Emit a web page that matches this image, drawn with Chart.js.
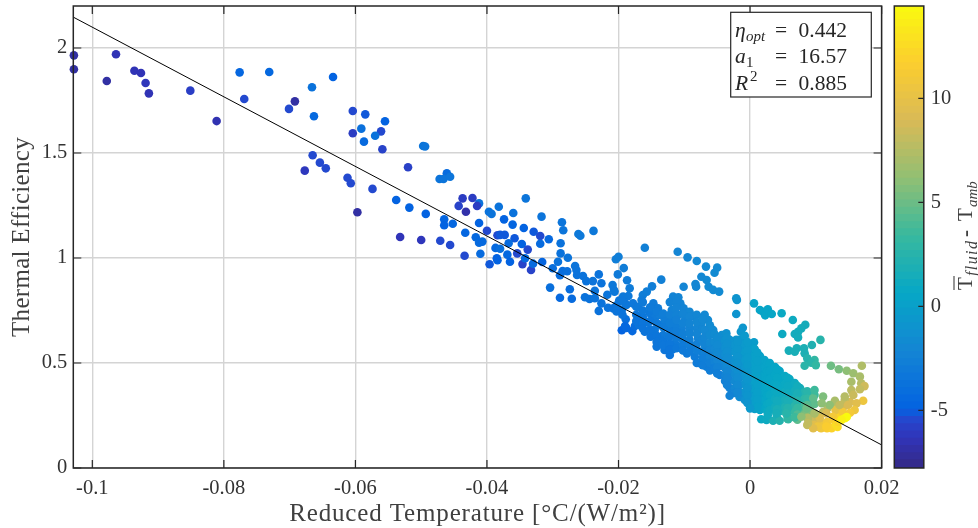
<!DOCTYPE html>
<html>
<head>
<meta charset="utf-8">
<title>Thermal Efficiency</title>
<script src="https://cdn.jsdelivr.net/npm/chart.js@4"></script>
<style>
html, body { margin: 0; padding: 0; background: #fff; }
#wrap { position: relative; width: 978px; height: 528px; overflow: hidden; }
canvas { position: absolute; top: 0; }
</style>
</head>
<body>
<div id="wrap">
    <canvas id="main" width="978" height="528" style="left:0"></canvas>
    <canvas id="bar" width="98" height="528" style="left:880px"></canvas>
</div>
<script>
// axis ticks
const xTicks = [-0.1, -0.08, -0.06, -0.04, -0.02, 0, 0.02];
const xTickLabels = ['-0.1', '-0.08', '-0.06', '-0.04', '-0.02', '0', '0.02'];
const yTicks = [0, 0.5, 1, 1.5, 2];
const yTickLabels = ['0', '0.5', '1', '1.5', '2'];
const barTicks = [-5, 0, 5, 10];
const barTickLabels = ['-5', '0', '5', '10'];

// fitted line end points
const fitX = [-0.10289, 0.02];
const fitY = [2.147, 0.11];

// measured points: [reduced temperature, efficiency, Tfluid-Tamb]
const farLeft = [
    [-0.1028,1.965,-7],[-0.1028,1.899,-7],[-0.0964,1.970,-6.5],[-0.0978,1.843,-7],[-0.0936,1.892,-6.5],
    [-0.0926,1.881,-6.5],[-0.0919,1.833,-6.3],[-0.0914,1.784,-6.5],[-0.0851,1.797,-5.9],[-0.0811,1.652,-6.6],
    [-0.0776,1.884,-4.7],[-0.0731,1.886,-4.6],[-0.0769,1.757,-5.5],[-0.0692,1.746,-7],[-0.0701,1.710,-5.5],
    [-0.0666,1.813,-3.8],[-0.0634,1.862,-5],[-0.0663,1.675,-4.5],[-0.0665,1.489,-5.5],[-0.0654,1.454,-5.5],
    [-0.0645,1.427,-5.5],[-0.0677,1.416,-6.2],[-0.0612,1.382,-5.5],[-0.0607,1.356,-5.5],[-0.0574,1.329,-5.5],
    [-0.0597,1.218,-7],[-0.0604,1.700,-5.5],[-0.0585,1.684,-5.2],[-0.0555,1.651,-5],[-0.0591,1.616,-3.9],
    [-0.0604,1.594,-6],[-0.0561,1.603,-5.5],[-0.0570,1.582,-3.8],[-0.0587,1.554,-4.4],[-0.0559,1.518,-5.7]
];
const middleLeft = [
    [-0.0520,1.432,-5.8],[-0.0497,1.533,-3.5],[-0.0494,1.531,-3.5],[-0.0461,1.403,-4.3],[-0.0472,1.376,-3.6],
    [-0.0466,1.376,-3.6],[-0.0456,1.387,-3.5],[-0.0538,1.276,-5],[-0.0518,1.240,-5],[-0.0493,1.210,-5],
    [-0.0532,1.100,-6.4],[-0.0500,1.086,-6.3],[-0.0471,1.082,-5.5],[-0.0456,1.062,-5.5],[-0.0434,1.011,-5.5],
    [-0.0410,1.020,-4.3],[-0.0465,1.184,-4.8],[-0.0465,1.156,-5],[-0.0452,1.163,-4.7],[-0.0433,1.120,-4.7],
    [-0.0412,1.260,-3.8],[-0.0437,1.284,-6],[-0.0422,1.286,-6],[-0.0443,1.248,-5.7],[-0.0415,1.248,-6],
    [-0.0432,1.220,-6.8],[-0.0412,1.167,-5],[-0.0400,1.130,-5.5],[-0.0397,1.220,-3.8],[-0.0393,1.210,-3.6],
    [-0.0382,1.244,-3.7],[-0.0384,1.108,-5.5],[-0.0417,1.099,-4.5],[-0.0412,1.073,-4.4],[-0.0407,1.078,-4.4],
    [-0.0387,1.048,-4.5],[-0.0385,0.999,-5],[-0.0380,1.044,-4]
];
const middleRight = [
    [-0.0341,1.284,-3.5],[-0.0317,1.197,-3.6],[-0.0360,1.214,-3.8],[-0.0374,1.184,-5],[-0.0361,1.159,-4.8],
    [-0.0344,1.143,-5],[-0.0380,1.110,-5.2],[-0.0373,1.110,-5.2],[-0.0358,1.094,-5.2],[-0.0367,1.070,-4.3],
    [-0.0329,1.125,-5.2],[-0.0319,1.105,-5.5],[-0.0319,1.068,-4.3],[-0.0306,1.089,-4.5],[-0.0347,1.067,-5],
    [-0.0338,1.040,-5.5],[-0.0369,1.016,-4.5],[-0.0354,1.022,-5.5],[-0.0384,0.989,-5],[-0.0365,0.982,-5],
    [-0.0346,0.971,-5.7],[-0.0396,0.970,-5.2],[-0.0333,0.943,-5.7],[-0.0316,0.981,-4.8],[-0.0330,0.973,-4.3],
    [-0.0342,0.999,-4.5],[-0.0288,1.070,-3.8],[-0.0286,1.170,-3.5],[-0.0284,1.132,-3.5],[-0.0261,1.114,-3.2],
    [-0.0258,1.106,-3.2],[-0.0238,1.129,-3.3],[-0.0288,1.022,-3.8],[-0.0277,1.001,-3.6],[-0.0292,0.982,-3.7],
    [-0.0300,0.951,-4],[-0.0289,0.918,-4.2],[-0.0285,0.938,-4.2],[-0.0278,0.937,-4],[-0.0266,0.962,-3.6],
    [-0.0264,0.943,-3.7],[-0.0263,0.919,-3.8],[-0.0254,0.914,-3.8],[-0.0249,0.890,-3.8],[-0.0239,0.890,-3.6],
    [-0.0230,0.922,-3.7],[-0.0226,0.880,-3.7],[-0.0204,0.994,-2.8],[-0.0200,1.006,-2.8],[-0.0192,0.952,-2.9],
    [-0.0201,0.922,-3.1],[-0.0187,0.894,-3],[-0.0304,0.859,-4],[-0.0274,0.851,-4.2],[-0.0289,0.811,-4.5],
    [-0.0271,0.806,-4.3]
];
const bandLeft = [
    [-0.0251,0.813,-3.8],[-0.0244,0.805,-3.8],[-0.0236,0.808,-3.7],[-0.0236,0.844,-3.6],[-0.0230,0.748,-3.8],
    [-0.0226,0.784,-3.7],[-0.0217,0.825,-3.5],[-0.0216,0.763,-3.7],[-0.0209,0.871,-3.3],[-0.0206,0.840,-3.3],
    [-0.0199,0.797,-3.5],[-0.0195,0.752,-3.6],[-0.0189,0.708,-4],[-0.0195,0.656,-5],[-0.0179,0.652,-4.5],
    [-0.0190,0.676,-4.5],[-0.0175,0.676,-4.2],[-0.0183,0.856,-3],[-0.0185,0.819,-3.2],[-0.0190,0.784,-3.4],
    [-0.0173,0.768,-3.3],[-0.0207,0.848,-3.3],[-0.0193,0.816,-3.3],[-0.0208,0.760,-3.7],[-0.0188,0.776,-3.4],
    [-0.0178,0.784,-3.4],[-0.0170,0.768,-3.3],[-0.0163,0.824,-2.8],[-0.0157,0.840,-2.8],[-0.0165,0.800,-3],
    [-0.0147,0.784,-3],[-0.0140,0.760,-3],[-0.0152,0.737,-3.3],[-0.0163,0.720,-3.4],[-0.0170,0.689,-3.7],
    [-0.0188,0.667,-4.6],[-0.0169,0.681,-3.7],[-0.0160,0.649,-3.6],[-0.0151,0.625,-3.6],[-0.0145,0.657,-3.4],
    [-0.0137,0.681,-3.2],[-0.0130,0.705,-2.9],[-0.0119,0.752,-2.5],[-0.0117,0.816,-2.4],[-0.0109,0.813,-2.3],
    [-0.0106,0.784,-2.3],[-0.0101,0.760,-2.3],[-0.0109,0.729,-2.5],[-0.0092,0.744,-2.1],[-0.0087,0.724,-2.2],
    [-0.0099,0.705,-2.4],[-0.0069,0.729,-2],[-0.0064,0.705,-1.9],[-0.0074,0.689,-2],[-0.0081,0.665,-2.2],
    [-0.0092,0.665,-2.4],[-0.0104,0.665,-2.6],[-0.0114,0.681,-2.8],[-0.0122,0.657,-3],[-0.0132,0.633,-3.1],
    [-0.0137,0.610,-3.3],[-0.0142,0.578,-3.5],[-0.0130,0.562,-3.5],[-0.0122,0.538,-3.6],[-0.0114,0.594,-3.2],
    [-0.0107,0.578,-3.1],[-0.0096,0.546,-3.2],[-0.0087,0.578,-2.8],[-0.0102,0.610,-2.8],[-0.0092,0.610,-2.7],
    [-0.0079,0.618,-2.4],[-0.0066,0.641,-2.1],[-0.0056,0.657,-1.8],[-0.0043,0.633,-1.5],[-0.0036,0.641,-1.3],
    [-0.0051,0.610,-1.9],[-0.0064,0.578,-2.3],[-0.0074,0.554,-2.6],[-0.0084,0.530,-3],[-0.0076,0.499,-3],
    [-0.0066,0.482,-2.8],[-0.0056,0.530,-2.3],[-0.0041,0.546,-1.6],[-0.0028,0.578,-1.1],[-0.0021,0.610,-0.9],
    [-0.0031,0.610,-1.1],[-0.0156,0.695,-3.3],[-0.0145,0.714,-3.1],[-0.0137,0.729,-2.9],[-0.0125,0.681,-2.9],
    [-0.0119,0.714,-2.7],[-0.0125,0.625,-3.1],[-0.0115,0.640,-2.9],[-0.0118,0.565,-3.4],
    [-0.0203,0.745,-3.6],[-0.0203,0.775,-3.5],[-0.0194,0.795,-3.4],[-0.0194,0.730,-3.7],[-0.0173,0.730,-3.5],
    [-0.0173,0.700,-3.7],[-0.0163,0.790,-3.1],[-0.0163,0.750,-3.3],[-0.0163,0.690,-3.5],[-0.0163,0.665,-3.6],
    [-0.0152,0.765,-3.1],[-0.0152,0.700,-3.4],[-0.0152,0.660,-3.5],[-0.0142,0.745,-3],[-0.0142,0.690,-3.2],
    [-0.0142,0.630,-3.5],[-0.0142,0.600,-3.5],[-0.0132,0.735,-2.8],[-0.0132,0.670,-3],[-0.0132,0.600,-3.4],
    [-0.0132,0.585,-3.4],[-0.0122,0.790,-2.5],[-0.0122,0.730,-2.6],[-0.0122,0.690,-2.8],[-0.0122,0.625,-3.2],
    [-0.0122,0.590,-3.4],[-0.0122,0.565,-3.5],[-0.0112,0.790,-2.4],[-0.0112,0.765,-2.4],[-0.0112,0.730,-2.5],
    [-0.0112,0.705,-2.6],[-0.0112,0.650,-2.9],[-0.0112,0.620,-3],[-0.0112,0.570,-3.3],[-0.0102,0.735,-2.3],
    [-0.0102,0.690,-2.5],[-0.0102,0.640,-2.7],[-0.0102,0.585,-3],[-0.0102,0.560,-3.1],[-0.0092,0.720,-2.2],
    [-0.0092,0.690,-2.3],[-0.0092,0.640,-2.5],[-0.0092,0.585,-2.9],[-0.0092,0.555,-3],[-0.0081,0.730,-2.1],
    [-0.0081,0.695,-2.1],[-0.0081,0.640,-2.3],[-0.0081,0.590,-2.6],[-0.0081,0.560,-2.8],[-0.0081,0.500,-3],
    [-0.0072,0.710,-2],[-0.0072,0.660,-2.1],[-0.0072,0.610,-2.3],[-0.0072,0.525,-2.8],[-0.0072,0.490,-2.9],
    [-0.0061,0.680,-1.8],[-0.0061,0.665,-1.8],[-0.0061,0.465,-2.9]
];
const upperArc = [
    [-0.0160,1.049,-2.6],[-0.0135,0.897,-2.6],[-0.0149,0.865,-2.8],[-0.0110,1.030,-2.2],[-0.0095,1.003,-2.1],
    [-0.0081,0.986,-2],[-0.0067,0.959,-1.9],[-0.0050,0.954,-1.8],[-0.0054,0.930,-1.8],[-0.0074,0.911,-2],
    [-0.0066,0.895,-1.9],[-0.0063,0.863,-1.9],[-0.0056,0.848,-1.8],[-0.0047,0.840,-1.8],[-0.0101,0.863,-2.2],
    [-0.0082,0.863,-2.1],[-0.0083,0.876,-2.1],[-0.0021,0.808,-1],[-0.0020,0.800,-1],[-0.0021,0.733,-1],
    [0.0006,0.784,0.2],[0.0015,0.752,0.3],[0.0020,0.744,0.3],[0.0023,0.727,0.4],[0.0027,0.756,0.4],
    [0.0033,0.733,0.5],[0.0048,0.737,0.8],[0.0065,0.705,1],[0.0084,0.682,1.4],[0.0078,0.665,1.4],
    [0.0073,0.649,1.3],[0.0068,0.638,1.2],[0.0073,0.622,1.3],[0.0049,0.638,0.9],[-0.0011,0.668,-0.8],
    [-0.0014,0.649,-0.8],[0.0006,0.599,-0.3],[0.0107,0.610,2.4],[0.0094,0.586,2],[0.0082,0.570,1.8],
    [0.0071,0.570,1.6],[0.0059,0.559,1.5],[0.0068,0.554,1.6],[0.0083,0.546,1.8],[0.0087,0.522,2.3],
    [0.0098,0.514,3],[0.0093,0.501,2.5],[0.0100,0.490,3],[0.0083,0.487,2.6]
];
const bandCentre = [
    [-0.0069,0.657,-2],[-0.0069,0.624,-2.1],[-0.0069,0.586,-2.3],[-0.0069,0.552,-2.6],[-0.0069,0.524,-2.8],
    [-0.0061,0.633,-1.9],[-0.0061,0.595,-2],[-0.0061,0.562,-2.2],[-0.0061,0.529,-2.5],[-0.0061,0.500,-2.7],
    [-0.0054,0.638,-1.7],[-0.0054,0.600,-1.8],[-0.0054,0.567,-2],[-0.0054,0.533,-2.2],[-0.0054,0.505,-2.5],[-0.0054,0.476,-2.8],
    [-0.0046,0.619,-1.5],[-0.0046,0.586,-1.6],[-0.0046,0.552,-1.8],[-0.0046,0.519,-2],[-0.0046,0.486,-2.4],[-0.0046,0.443,-2.8],
    [-0.0038,0.610,-1.3],[-0.0038,0.576,-1.4],[-0.0038,0.543,-1.6],[-0.0038,0.510,-1.8],[-0.0038,0.476,-2.1],[-0.0038,0.443,-2.4],[-0.0038,0.414,-2.6],
    [-0.0031,0.586,-1.2],[-0.0031,0.552,-1.3],[-0.0031,0.519,-1.4],[-0.0031,0.486,-1.6],[-0.0031,0.452,-1.9],[-0.0031,0.419,-2.2],[-0.0031,0.381,-2.4],
    [-0.0023,0.586,-1],[-0.0023,0.552,-1],[-0.0023,0.514,-1.2],[-0.0023,0.481,-1.4],[-0.0023,0.448,-1.7],[-0.0023,0.414,-1.9],[-0.0023,0.381,-2],[-0.0023,0.357,-2.2],
    [-0.0016,0.610,-0.8],[-0.0016,0.571,-0.8],[-0.0016,0.533,-0.9],[-0.0016,0.495,-1],[-0.0016,0.462,-1.3],[-0.0016,0.429,-1.5],[-0.0016,0.395,-1.6],[-0.0016,0.362,-1.6],[-0.0016,0.338,-1.7],
    [-0.0008,0.629,-0.6],[-0.0008,0.590,-0.6],[-0.0008,0.552,-0.5],[-0.0008,0.514,-0.6],[-0.0008,0.476,-0.8],[-0.0008,0.438,-1],[-0.0008,0.400,-1.1],[-0.0008,0.362,-1.1],[-0.0008,0.324,-1.2],
    [0,0.581,-0.3],[0,0.543,-0.2],[0,0.505,-0.2],[0,0.467,-0.2],[0,0.429,-0.3],[0,0.390,-0.4],[0,0.352,-0.5],[0,0.319,-0.6],[0,0.295,-0.6],
    [0.0007,0.567,0],[0.0007,0.529,0],[0.0007,0.490,0],[0.0007,0.452,0],[0.0007,0.414,0],[0.0007,0.376,-0.1],[0.0007,0.338,-0.2],[0.0007,0.305,-0.2],[0.0007,0.281,-0.1],
    [0.0015,0.533,0.1],[0.0015,0.495,0.1],[0.0015,0.457,0.1],[0.0015,0.419,0.2],[0.0015,0.381,0.2],[0.0015,0.343,0.1],[0.0015,0.310,0.1],[0.0015,0.276,0.3],
    [0.0022,0.514,0.2],[0.0022,0.476,0.2],[0.0022,0.438,0.3],[0.0022,0.400,0.4],[0.0022,0.362,0.4],[0.0022,0.324,0.4],[0.0022,0.286,0.5],
    [-0.0050,0.620,-1.7],[-0.0050,0.585,-1.8],[-0.0050,0.550,-1.9],[-0.0050,0.515,-2.2],[-0.0050,0.480,-2.5],[-0.0050,0.450,-2.8],
    [-0.0035,0.620,-1.2],[-0.0035,0.590,-1.3],[-0.0035,0.555,-1.4],[-0.0035,0.525,-1.6],[-0.0035,0.490,-1.9],[-0.0035,0.460,-2.1],[-0.0035,0.430,-2.3],[-0.0035,0.395,-2.5],
    [-0.0019,0.600,-0.9],[-0.0019,0.565,-0.9],[-0.0019,0.530,-1],[-0.0019,0.500,-1.1],[-0.0019,0.465,-1.4],[-0.0019,0.430,-1.6],[-0.0019,0.395,-1.8],[-0.0019,0.360,-2],
    [-0.0004,0.600,-0.4],[-0.0004,0.560,-0.4],[-0.0004,0.525,-0.4],[-0.0004,0.490,-0.5],[-0.0004,0.455,-0.7],[-0.0004,0.420,-0.8],[-0.0004,0.380,-0.9],[-0.0004,0.345,-0.9],[-0.0004,0.310,-1],
    [0.0011,0.550,0],[0.0011,0.510,0],[0.0011,0.470,0],[0.0011,0.435,0.1],[0.0011,0.395,0],[0.0011,0.360,0],[0.0011,0.325,0],[0.0011,0.290,0.1],
    [0.0026,0.500,0.2],[0.0026,0.460,0.3],[0.0026,0.420,0.3],[0.0026,0.380,0.5],[0.0026,0.345,0.5],[0.0026,0.305,0.7],[0.0026,0.270,0.8]
];
const bandRight = [
    [0.0030,0.500,0.3],[0.0030,0.462,0.3],[0.0030,0.424,0.4],[0.0030,0.386,0.6],[0.0030,0.348,0.7],[0.0030,0.310,0.8],[0.0030,0.276,1],
    [0.0038,0.481,0.4],[0.0038,0.443,0.5],[0.0038,0.405,0.6],[0.0038,0.367,0.8],[0.0038,0.329,1],[0.0038,0.290,1.2],
    [0.0045,0.462,0.5],[0.0045,0.424,0.6],[0.0045,0.386,0.8],[0.0045,0.348,1.1],[0.0045,0.310,1.4],[0.0045,0.271,1.8],
    [0.0053,0.438,0.7],[0.0053,0.400,0.8],[0.0053,0.362,1.1],[0.0053,0.324,1.5],[0.0053,0.290,1.9],
    [0.0060,0.424,0.9],[0.0060,0.386,1],[0.0060,0.348,1.3],[0.0060,0.310,1.9],[0.0060,0.276,2.6],
    [0.0068,0.405,1],[0.0068,0.367,1.4],[0.0068,0.329,1.9],[0.0068,0.295,2.6],[0.0068,0.267,3.2],
    [0.0076,0.381,1.5],[0.0076,0.343,2],[0.0076,0.310,2.8],[0.0076,0.276,4],
    [0.0083,0.362,2.2],[0.0083,0.329,2.8],[0.0083,0.295,3.8],[0.0083,0.257,5],
    [0.0091,0.352,2.8],[0.0091,0.319,3.5],[0.0091,0.286,5],[0.0091,0.248,6.5],[0.0091,0.219,8.5],
    [0.0098,0.348,3.5],[0.0098,0.305,4.5],[0.0098,0.229,8],
    [0.0041,0.470,0.5],[0.0041,0.430,0.6],[0.0041,0.395,0.7],[0.0041,0.360,0.9],[0.0041,0.320,1.2],[0.0041,0.280,1.6],[0.0041,0.240,1.8],
    [0.0057,0.430,0.8],[0.0057,0.390,0.9],[0.0057,0.355,1.2],[0.0057,0.320,1.7],[0.0057,0.285,2.3],[0.0057,0.250,2.8],[0.0057,0.235,3],
    [0.0072,0.390,1.3],[0.0072,0.355,1.7],[0.0072,0.320,2.4],[0.0072,0.285,3.2],[0.0072,0.255,4],[0.0072,0.230,4.5],
    [0.0087,0.365,2.5],[0.0087,0.330,3],[0.0087,0.300,4.2],[0.0087,0.270,5.5],[0.0087,0.240,6.5],[0.0087,0.205,8],
    [0.0017,0.232,0.8],[0.0025,0.229,1],[0.0035,0.225,1.8],[0.0045,0.225,2.2],[0.0058,0.232,3],
    [0.0068,0.241,3.5],[0.0055,0.260,2.5],[0.0040,0.260,1.5],[0.0027,0.252,1],[0,0.284,-0.6],[-0.0031,0.344,-2.5]
];
const orangeEnd = [
    [0.0094,0.229,8.5],[0.0103,0.248,8],[0.0111,0.267,8],[0.0118,0.286,7.5],[0.0126,0.300,7.5],[0.0141,0.286,9],
    [0.0152,0.314,9],[0.0108,0.210,10.5],[0.0117,0.219,11],[0.0127,0.229,11.5],[0.0136,0.248,12],[0.0130,0.276,10],
    [0.0141,0.267,11],[0.0144,0.324,8],[0.0117,0.190,11.5],[0.0108,0.190,10.8],[0.0124,0.190,12],[0.0133,0.195,12.5],
    [0.0098,0.205,9.5],[0.0088,0.238,7.5]
];
const hook = [
    [0.0123,0.487,5],[0.0135,0.470,5.3],[0.0147,0.463,6],[0.0170,0.487,7.3],[0.0157,0.451,6.5],
    [0.0167,0.435,7],[0.0154,0.411,7],[0.0169,0.403,7.5],[0.0174,0.390,8.5],[0.0154,0.371,7.8],
    [0.0167,0.375,8],[0.0144,0.340,7.5],[0.0157,0.348,8.3],[0.0172,0.320,10.5],[0.0162,0.308,9.5],
    [0.0129,0.320,7],[0.0136,0.300,8],[0.0149,0.300,9],[0.0121,0.300,6],[0.0159,0.276,10.5],
    [0.0152,0.263,11],[0.0131,0.205,12.5],[0.0116,0.197,11.5],[0.0103,0.197,10.5],[0.0096,0.189,9.5],
    [0.0088,0.213,8],[0.0078,0.244,6],[0.0116,0.260,9],[0.0106,0.237,9.5],[0.0126,0.244,11],
    [0.0134,0.220,12],[0.0098,0.260,7],[0.0086,0.284,5],[0.0096,0.332,4.5],[0.0098,0.371,3.5],
    [0.0111,0.340,5.5],[0.0109,0.308,6],[0.0144,0.237,14.2],[0.0147,0.243,14.4],[0.0139,0.229,13.8]
];
const allPoints = [...farLeft, ...middleLeft, ...middleRight, ...bandLeft, ...upperArc, ...bandCentre, ...bandRight, ...orangeEnd, ...hook];

// colour bar range
const barMin = -7.77;
const barMax = 14.44;

// parula style colour map
const mapStops = [0, 0.0625, 0.1, 0.125, 0.25, 0.375, 0.5, 0.625, 0.75, 0.875, 1];
const mapColors = [[53,42,135],[48,52,185],[38,70,205],[3,99,225],[20,133,212],[6,167,198],[56,185,158],[146,191,115],[217,186,86],[252,206,46],[249,251,14]];

function colorFor(v) {
    const t = Math.min(1, Math.max(0, (v - barMin) / (barMax - barMin)));
    let i = 0;
    while (i < mapStops.length - 2 && t > mapStops[i + 1]) i++;
    const f = (t - mapStops[i]) / (mapStops[i + 1] - mapStops[i]);
    const c = mapColors[i].map((a, k) => Math.round(a + (mapColors[i + 1][k] - a) * f));
    return `rgb(${c[0]},${c[1]},${c[2]})`;
}

const inkColor = '#262626';
const serif = '"Liberation Serif", serif';

function drawInnerTicks(ctx, chart, xScale, yScale, both) {
    const area = chart.chartArea;
    ctx.save();
    ctx.strokeStyle = inkColor;
    ctx.lineWidth = 1.2;
    ctx.beginPath();
    if (xScale) {
        xScale.ticks.forEach(t => {
            const px = xScale.getPixelForValue(t.value);
            ctx.moveTo(px, area.bottom); ctx.lineTo(px, area.bottom - 8);
            ctx.moveTo(px, area.top); ctx.lineTo(px, area.top + 8);
        });
    }
    yScale.ticks.forEach(t => {
        const py = yScale.getPixelForValue(t.value);
        ctx.moveTo(area.right, py); ctx.lineTo(area.right - (both ? 8 : 5.5), py);
        if (both) { ctx.moveTo(area.left, py); ctx.lineTo(area.left + 8, py); }
    });
    ctx.stroke();
    ctx.lineWidth = 1.5;
    ctx.strokeRect(area.left, area.top, area.right - area.left, area.bottom - area.top);
    ctx.restore();
}

// inward ticks, frame, axis titles and the fit result box
const frameAndBox = {
    id: 'frameAndBox',
    afterDatasetsDraw(chart) {
        const ctx = chart.ctx;
        drawInnerTicks(ctx, chart, chart.scales.x, chart.scales.y, true);
        ctx.save();
        ctx.fillStyle = '#fff';
        ctx.strokeStyle = inkColor;
        ctx.lineWidth = 1.2;
        ctx.fillRect(730.7, 12.3, 140.6, 84.7);
        ctx.strokeRect(730.7, 12.3, 140.6, 84.7);
        ctx.fillStyle = inkColor;
        ctx.textBaseline = 'alphabetic';
        const big = `21.5px ${serif}`;
        const bigIt = `italic 21.5px ${serif}`;
        const small = `italic 15px ${serif}`;
        const rows = [[37, '0.442'], [63, '16.57'], [89.5, '0.885']];
        rows.forEach(r => {
            ctx.font = big;
            ctx.fillText('=', 775, r[0]);
            ctx.fillText(r[1], 798.5, r[0]);
        });
        ctx.font = bigIt;
        ctx.fillText('η', 735, 37);
        ctx.fillText('a', 735, 63);
        ctx.fillText('R', 735, 89.5);
        ctx.font = small;
        ctx.fillText('opt', 746, 41);
        ctx.font = `15px ${serif}`;
        ctx.fillText('1', 746, 67);
        ctx.fillText('2', 750, 81);

        // axis titles, spaced out to the width of the original face
        ctx.fillStyle = '#404040';
        ctx.font = `25px ${serif}`;
        ctx.textAlign = 'center';
        ctx.textBaseline = 'middle';
        ctx.letterSpacing = '0.85px';
        ctx.fillText('Reduced Temperature [°C/(W/m²)]', 477.5, 514);
        ctx.letterSpacing = '0.3px';
        ctx.translate(22, 237);
        ctx.rotate(-Math.PI / 2);
        ctx.fillText('Thermal Efficiency', 0, 0);
        ctx.restore();
    }
};

const barFrame = {
    id: 'barFrame',
    afterDatasetsDraw(chart) {
        drawInnerTicks(chart.ctx, chart, null, chart.scales.y, false);
    },
    afterDraw(chart) {
        // rotated colour bar title
        const ctx = chart.ctx;
        ctx.save();
        ctx.translate(92, 290);
        ctx.rotate(-Math.PI / 2);
        ctx.fillStyle = '#404040';
        ctx.strokeStyle = '#404040';
        ctx.textBaseline = 'alphabetic';
        ctx.font = `21px ${serif}`;
        ctx.fillText('T', 0, 0);
        ctx.lineWidth = 1.1;
        ctx.beginPath();
        ctx.moveTo(0, -18);
        ctx.lineTo(14, -18);
        ctx.stroke();
        ctx.font = `italic 16px ${serif}`;
        ctx.letterSpacing = '1.4px';
        ctx.fillText('fluid', 14, 5);
        ctx.letterSpacing = '0px';
        ctx.font = `bold 21px ${serif}`;
        ctx.fillText('-', 53, 0);
        ctx.font = `21px ${serif}`;
        ctx.fillText('T', 69, 0);
        ctx.font = `italic 15px ${serif}`;
        ctx.fillText('amb', 83, 5);
        ctx.restore();
    }
};

new Chart(document.getElementById('main'), {
    type: 'scatter',
    data: {
        datasets: [
            {
                label: 'Fit',
                type: 'line',
                data: fitX.map((x, i) => ({ x: x, y: fitY[i] })),
                borderColor: '#000',
                borderWidth: 1,
                pointRadius: 0,
                tension: 0,
                clip: false,
                order: 0
            },
            {
                label: 'Measurements',
                data: allPoints.map(p => ({ x: p[0], y: p[1] })),
                pointBackgroundColor: allPoints.map(p => colorFor(p[2])),
                pointBorderWidth: 0,
                pointRadius: 4.3,
                clip: false,
                order: 1
            }
        ]
    },
    options: {
        responsive: false,
        animation: false,
        events: [],
        layout: { padding: { left: 0, right: 96.4, top: 6, bottom: 0 } },
        plugins: { legend: { display: false }, tooltip: { enabled: false } },
        scales: {
            x: {
                type: 'linear',
                min: -0.10289,
                max: 0.02,
                afterFit: s => { s.height = 60; s.paddingLeft = 0; s.paddingRight = 0; },
                afterBuildTicks: s => { s.ticks = xTicks.map(v => ({ value: v })); },
                grid: { color: '#d4d4d4', lineWidth: 1.4, drawTicks: false },
                border: { display: false },
                ticks: {
                    autoSkip: false,
                    maxRotation: 0,
                    padding: 8,
                    color: '#333',
                    font: { family: serif, size: 20.5 },
                    callback: v => xTickLabels[xTicks.indexOf(v)]
                }
            },
            y: {
                type: 'linear',
                min: 0,
                max: 2.2,
                afterFit: s => { s.width = 73.3; s.paddingTop = 0; s.paddingBottom = 0; },
                afterBuildTicks: s => { s.ticks = yTicks.map(v => ({ value: v })); },
                grid: { color: '#d4d4d4', lineWidth: 1.4, drawTicks: false },
                border: { display: false },
                ticks: {
                    autoSkip: false,
                    padding: 6,
                    color: '#333',
                    font: { family: serif, size: 20.5 },
                    callback: v => yTickLabels[yTicks.indexOf(v)]
                }
            }
        }
    },
    plugins: [frameAndBox]
});

// colour bar, 64 swatches stacked along the value axis
const barDatasets = [];
const barSteps = 64;
for (let i = 0; i < barSteps; i++) {
    const lo = barMin + (barMax - barMin) * i / barSteps;
    const hi = barMin + (barMax - barMin) * (i + 1.15) / barSteps;
    barDatasets.push({
        data: [[lo, Math.min(hi, barMax)]],
        backgroundColor: colorFor((lo + barMin + (barMax - barMin) * (i + 1) / barSteps) / 2),
        borderWidth: 0,
        grouped: false,
        barPercentage: 1,
        categoryPercentage: 1
    });
}

new Chart(document.getElementById('bar'), {
    type: 'bar',
    data: { labels: ['T'], datasets: barDatasets },
    options: {
        responsive: false,
        animation: false,
        events: [],
        layout: { padding: { left: 14.3, right: 0, top: 6, bottom: 0 } },
        plugins: { legend: { display: false }, tooltip: { enabled: false } },
        scales: {
            x: {
                display: true,
                afterFit: s => { s.height = 60; },
                grid: { display: false },
                border: { display: false },
                ticks: { display: false }
            },
            y: {
                position: 'right',
                min: barMin,
                max: barMax,
                afterFit: s => { s.width = 54.2; s.paddingTop = 0; s.paddingBottom = 0; },
                afterBuildTicks: s => { s.ticks = barTicks.map(v => ({ value: v })); },
                grid: { display: false, drawTicks: false },
                border: { display: false },
                ticks: {
                    autoSkip: false,
                    padding: 7,
                    color: '#333',
                    font: { family: serif, size: 20.5 },
                    callback: v => barTickLabels[barTicks.indexOf(v)]
                }
            }
        }
    },
    plugins: [barFrame]
});
</script>
</body>
</html>
